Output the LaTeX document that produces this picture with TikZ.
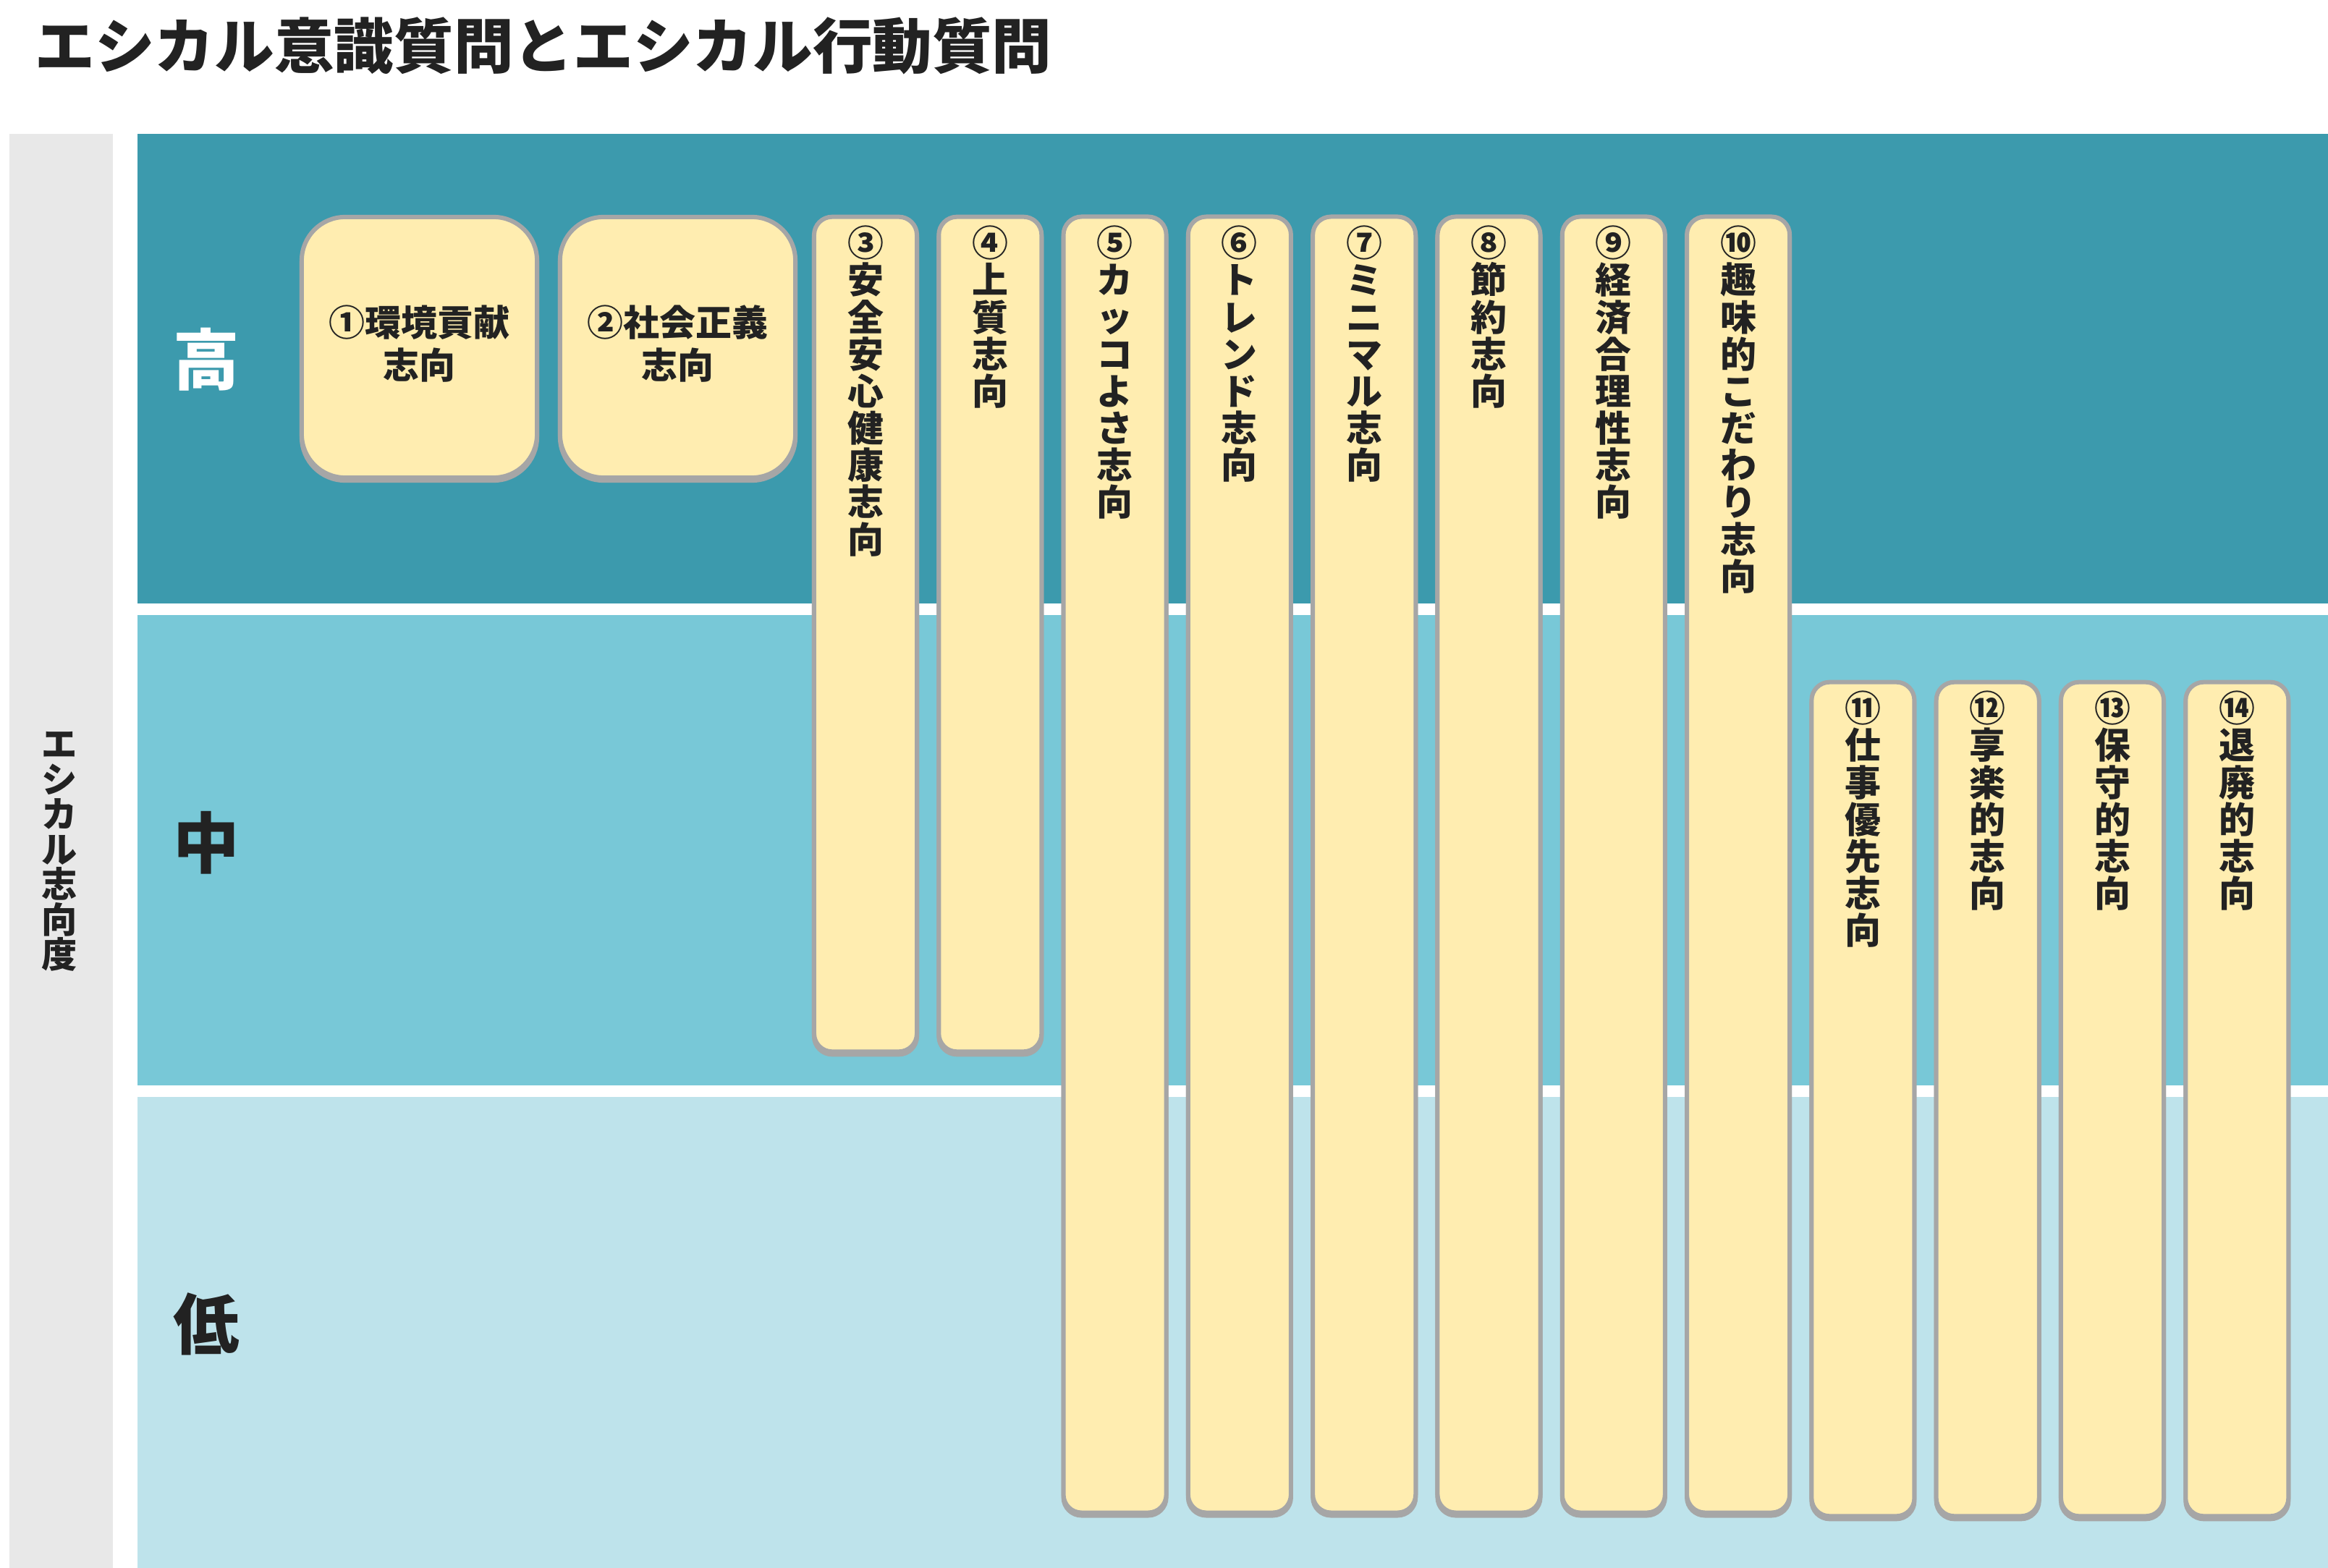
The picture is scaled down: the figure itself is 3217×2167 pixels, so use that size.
\documentclass[tikz,border=0pt]{standalone}
\usepackage{fontspec}
\setmainfont{Noto Sans CJK JP}
\usetikzlibrary{shadows}
\definecolor{teal}{HTML}{3C9AAD}
\definecolor{midband}{HTML}{78C8D7}
\definecolor{lowband}{HTML}{BEE3EB}
\definecolor{strip}{HTML}{E8E8E8}
\definecolor{boxfill}{HTML}{FFEDB0}
\definecolor{boxline}{HTML}{A6A6A6}
\definecolor{ink}{HTML}{222222}
\def\vstend{vstend-marker}
\def\vst#1#2{\vbox{\baselineskip=#1\relax\lineskiplimit=-100pt\lineskip=0pt\vstloop#2\vstend}}
\def\vstloop#1{\ifx\vstend#1\else\hbox to 0pt{\hss\smash{#1}\hss}\expandafter\vstloop\fi}
\tikzset{
 ybox/.style={rectangle, draw=boxline, fill=boxfill, line width=0.06cm, rounded corners=0.25cm, inner sep=0pt, minimum width=1.42cm,
   drop shadow={shadow xshift=0cm, shadow yshift=-0.04cm, fill=boxline, draw=boxline, line width=0.06cm, opacity=1}},
 wbox/.style={ybox, rounded corners=0.6cm, minimum width=3.25cm, minimum height=3.6cm},
 vlabel/.style={anchor=north, inner sep=0pt, text=ink, font=\bfseries\fontsize{14.2pt}{14.55pt}\selectfont},
 level/.style={inner sep=0pt, font=\bfseries\fontsize{26pt}{30pt}\selectfont},
}
\begin{document}
\begin{tikzpicture}[x=0.01cm, y=-0.01cm]
\useasboundingbox (0,0) rectangle (3217,2167);
\fill[white] (0,0) rectangle (3217,2167);
% title
\node[anchor=base west, inner sep=0pt, text=ink, font=\bfseries\fontsize{23.5pt}{26pt}\selectfont] (title) at (48,95) {エシカル意識質問とエシカル行動質問};
% bands
\fill[strip] (13,185) rectangle (156,2167);
\fill[teal] (190,185) rectangle (3217,834);
\fill[midband] (190,850) rectangle (3217,1500);
\fill[lowband] (190,1516) rectangle (3217,2167);
% side label
\node[anchor=north, inner sep=0pt, text=ink, font=\bfseries\fontsize{14pt}{16pt}\selectfont] (side) at (82,1046) {\vst{13.8pt}{エシカル志向度}};
% level labels
\node[level, text=white] (high) at (285,497) {高};
\node[level, text=ink] (mid) at (285,1165) {中};
\node[level, text=ink] (low) at (285,1830) {低};
% wide boxes
\node[wbox] (b1) at (579.5,480) {};
\node[wbox] (b2) at (936.5,480) {};
\node[align=center, inner sep=0pt, text=ink, font=\bfseries\fontsize{14.2pt}{16.8pt}\selectfont] (t1) at (579.5,475) {①環境貢献\\志向};
\node[align=center, inner sep=0pt, text=ink, font=\bfseries\fontsize{14.2pt}{16.8pt}\selectfont] (t2) at (936.5,475) {②社会正義\\志向};
% tall boxes
\node[ybox, minimum height=11.53cm] (b3) at (1196,876.5) {};
\node[ybox, minimum height=11.53cm] (b4) at (1368.3,876.5) {};
\node[ybox, minimum height=17.90cm] (b5) at (1540.6,1195) {};
\node[ybox, minimum height=17.90cm] (b6) at (1712.9,1195) {};
\node[ybox, minimum height=17.90cm] (b7) at (1885.2,1195) {};
\node[ybox, minimum height=17.90cm] (b8) at (2057.5,1195) {};
\node[ybox, minimum height=17.90cm] (b9) at (2229.8,1195) {};
\node[ybox, minimum height=17.90cm] (b10) at (2402.1,1195) {};
\node[ybox, minimum height=11.52cm] (b11) at (2574.4,1519) {};
\node[ybox, minimum height=11.52cm] (b12) at (2746.7,1519) {};
\node[ybox, minimum height=11.52cm] (b13) at (2919,1519) {};
\node[ybox, minimum height=11.52cm] (b14) at (3091.3,1519) {};
% vertical texts
\node[vlabel] (t3) at (1196,354) {\vst{14.55pt}{③安全安心健康志向}};
\node[vlabel] (t4) at (1368.3,354) {\vst{14.55pt}{④上質志向}};
\node[vlabel] (t5) at (1540.6,354) {\vst{14.55pt}{⑤カッコよさ志向}};
\node[vlabel] (t6) at (1712.9,354) {\vst{14.55pt}{⑥トレンド志向}};
\node[vlabel] (t7) at (1885.2,354) {\vst{14.55pt}{⑦ミニマル志向}};
\node[vlabel] (t8) at (2057.5,354) {\vst{14.55pt}{⑧節約志向}};
\node[vlabel] (t9) at (2229.8,354) {\vst{14.55pt}{⑨経済合理性志向}};
\node[vlabel] (t10) at (2402.1,354) {\vst{14.55pt}{⑩趣味的こだわり志向}};
\node[vlabel] (t11) at (2574.4,997) {\vst{14.55pt}{⑪仕事優先志向}};
\node[vlabel] (t12) at (2746.7,997) {\vst{14.55pt}{⑫享楽的志向}};
\node[vlabel] (t13) at (2919,997) {\vst{14.55pt}{⑬保守的志向}};
\node[vlabel] (t14) at (3091.3,997) {\vst{14.55pt}{⑭退廃的志向}};
\end{tikzpicture}
\end{document}
